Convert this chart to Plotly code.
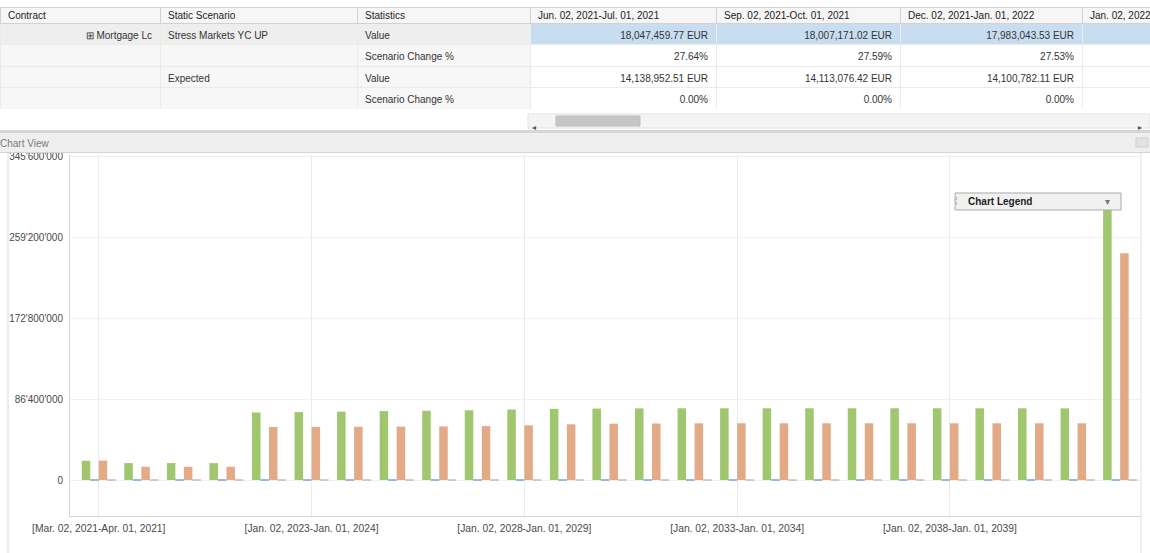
import plotly.graph_objects as go

W, H = 1150, 553
FONT = "Liberation Sans, Arial, sans-serif"
NB = "\u00a0"

# ---------------- data ----------------
periods = [
    "Mar. 02, 2021-Apr. 01, 2021", "Jun. 02, 2021-Jul. 01, 2021",
    "Sep. 02, 2021-Oct. 01, 2021", "Dec. 02, 2021-Jan. 01, 2022",
    "Jan. 02, 2022-Jan. 01, 2023", "Jan. 02, 2023-Jan. 01, 2024",
    "Jan. 02, 2024-Jan. 01, 2025", "Jan. 02, 2025-Jan. 01, 2026",
    "Jan. 02, 2026-Jan. 01, 2027", "Jan. 02, 2027-Jan. 01, 2028",
    "Jan. 02, 2028-Jan. 01, 2029", "Jan. 02, 2029-Jan. 01, 2030",
    "Jan. 02, 2030-Jan. 01, 2031", "Jan. 02, 2031-Jan. 01, 2032",
    "Jan. 02, 2032-Jan. 01, 2033", "Jan. 02, 2033-Jan. 01, 2034",
    "Jan. 02, 2034-Jan. 01, 2035", "Jan. 02, 2035-Jan. 01, 2036",
    "Jan. 02, 2036-Jan. 01, 2037", "Jan. 02, 2037-Jan. 01, 2038",
    "Jan. 02, 2038-Jan. 01, 2039", "Jan. 02, 2039-Jan. 01, 2040",
    "Jan. 02, 2040-Jan. 01, 2041", "Jan. 02, 2041-Jan. 01, 2042",
    "Jan. 02, 2042-Jan. 01, 2043",
]

stress_value = [
    20.5e6, 18047459.77, 18007171.02, 17983043.53,
    72.0e6, 72.4e6, 72.9e6, 73.5e6, 73.9e6, 74.4e6, 75.2e6, 75.9e6,
    76.2e6, 76.4e6, 76.5e6, 76.5e6, 76.5e6, 76.5e6, 76.5e6, 76.5e6,
    76.5e6, 76.5e6, 76.5e6, 76.4e6, 306.0e6,
]
stress_change_pct = [
    0.8, 27.64, 27.59, 27.53,
    27.2, 27.3, 27.5, 28.1, 28.3, 28.6, 28.9, 27.8,
    26.8, 26.7, 26.6, 26.4, 26.4, 26.4, 26.4, 26.4,
    26.4, 26.4, 26.4, 26.3, 26.4,
]
expected_value = [
    20.7e6, 14138952.51, 14113076.42, 14100782.11,
    56.6e6, 56.7e6, 56.8e6, 57.0e6, 57.2e6, 57.5e6, 58.3e6, 59.4e6,
    60.1e6, 60.3e6, 60.5e6, 60.5e6, 60.5e6, 60.5e6, 60.5e6, 60.5e6,
    60.5e6, 60.5e6, 60.5e6, 60.5e6, 242.0e6,
]
expected_change_pct = [0.0] * 25

y_ticks = [0, 86400000, 172800000, 259200000, 345600000]
x_tick_idx = [0, 5, 10, 15, 20]

# table content
table_columns = ["Contract", "Static Scenario", "Statistics",
                 "Jun. 02, 2021-Jul. 01, 2021", "Sep. 02, 2021-Oct. 01, 2021",
                 "Dec. 02, 2021-Jan. 01, 2022", "Jan. 02, 2022-Jan. 01, 2023"]
contract_col = ["\u229e Mortgage Lc", "", "", ""]
scenario_col = ["Stress Markets YC UP", "", "Expected", ""]
stat_col = ["Value", "Scenario Change %", "Value", "Scenario Change %"]
jun_col = [18047459.77, 27.64, 14138952.51, 0.00]
sep_col = [18007171.02, 27.59, 14113076.42, 0.00]
dec_col = [17983043.53, 27.53, 14100782.11, 0.00]
col_px_widths = [160, 197, 173, 186, 184, 182, 68]

# ---------------- helpers ----------------
def px(x):
    return x / W

def py(y):
    return 1 - y / H

def nowrap(s):
    return s.replace(" ", NB)

def fmt_col(col):
    out = []
    for stat, v in zip(stat_col, col):
        out.append(nowrap(f"{v:,.2f} EUR") if stat == "Value" else f"{v:.2f}%")
    return out

fig = go.Figure()

# ---------------- table ----------------
left_fill = ["#eeeeee", "#f7f7f7", "#f7f7f7", "#f7f7f7"]
val_fill = ["#c9ddf0", "#ffffff", "#ffffff", "#ffffff"]
fig.add_trace(go.Table(
    domain=dict(x=[0, 1], y=[py(109.5), py(3)]),
    columnwidth=col_px_widths,
    header=dict(
        values=[nowrap(c) for c in table_columns],
        align="left",
        height=20,
        fill_color="#f6f6f6",
        line=dict(color="#d2d2d2", width=1),
        font=dict(family=FONT, size=10, color="#222222"),
    ),
    cells=dict(
        values=[[nowrap(v) for v in contract_col], [nowrap(v) for v in scenario_col],
                [nowrap(v) for v in stat_col],
                fmt_col(jun_col), fmt_col(sep_col), fmt_col(dec_col),
                ["", "", "", ""]],
        align=["right", "left", "left", "right", "right", "right", "right"],
        height=21.5,
        fill_color=[left_fill, left_fill, left_fill, val_fill, val_fill, val_fill, val_fill],
        line=dict(color="#ebebeb", width=1),
        font=dict(family=FONT, size=10, color="#333333"),
    ),
))

# ---------------- bars ----------------
fig.add_trace(go.Bar(x=periods, y=stress_value, name="Stress Markets YC UP - Value",
                     marker=dict(color="#a0c66e", line=dict(width=0))))
fig.add_trace(go.Bar(x=periods, y=stress_change_pct, name="Stress Markets YC UP - Scenario Change %",
                     marker=dict(color="#6fa8dc", line=dict(color="#6fa8dc", width=1))))
fig.add_trace(go.Bar(x=periods, y=expected_value, name="Expected - Value",
                     marker=dict(color="#e2aa87", line=dict(width=0))))
fig.add_trace(go.Bar(x=periods, y=expected_change_pct, name="Expected - Scenario Change %",
                     marker=dict(color="#cf8f78", line=dict(color="#cf8f78", width=1.2))))

# ---------------- layout ----------------
shapes = [
    # white strip above the table header
    dict(type="rect", xref="paper", yref="paper", x0=0, x1=1, y0=py(7.5), y1=1,
         fillcolor="#ffffff", line=dict(width=0), layer="above"),
    dict(type="line", xref="paper", yref="paper", x0=0, x1=1, y0=py(7.5), y1=py(7.5),
         line=dict(color="#d2d2d2", width=1), layer="above"),
    # scrollbar
    dict(type="rect", xref="paper", yref="paper", x0=px(528), x1=px(1150), y0=py(128), y1=py(114),
         fillcolor="#f4f4f4", line=dict(color="#e2e2e2", width=1), layer="above"),
    dict(type="rect", xref="paper", yref="paper", x0=px(556), x1=px(640), y0=py(126), y1=py(116),
         fillcolor="#c6c6c6", line=dict(color="#bdbdbd", width=1), layer="above"),
    # separator
    dict(type="rect", xref="paper", yref="paper", x0=0, x1=1, y0=py(133), y1=py(130),
         fillcolor="#d6d6d6", line=dict(width=0), layer="above"),
    # chart view header band
    dict(type="rect", xref="paper", yref="paper", x0=0, x1=1, y0=py(152.5), y1=py(133),
         fillcolor="#efefef", line=dict(width=0), layer="above"),
    dict(type="line", xref="paper", yref="paper", x0=0, x1=1, y0=py(152.5), y1=py(152.5),
         line=dict(color="#d4d4d4", width=1), layer="above"),
    dict(type="rect", xref="paper", yref="paper", x0=px(1136), x1=px(1148), y0=py(147), y1=py(138),
         fillcolor="#e2e2e2", line=dict(color="#cfcfcf", width=1), layer="above"),
    # panel borders
    dict(type="line", xref="paper", yref="paper", x0=px(8), x1=px(8), y0=0, y1=py(153),
         line=dict(color="#dcdcdc", width=1), layer="above"),
    dict(type="line", xref="paper", yref="paper", x0=px(1141), x1=px(1141), y0=0, y1=py(153),
         line=dict(color="#e2e2e2", width=1), layer="above"),
    # legend box
    dict(type="rect", xref="paper", yref="paper", x0=px(955), x1=px(1121), y0=py(210), y1=py(193),
         fillcolor="#f1f1f1", line=dict(color="#a9a9a9", width=1), layer="above"),
]

annotations = [
    dict(text="Chart View", x=0, y=py(143.5), xref="paper", yref="paper", xanchor="left",
         yanchor="middle", xshift=-2, showarrow=False, font=dict(family=FONT, size=10, color="#7a7a7a")),
    dict(text="\u25c2", x=px(534), y=py(121), xref="paper", yref="paper", showarrow=False,
         font=dict(size=8, color="#555555")),
    dict(text="\u25b8", x=px(1144), y=py(121), xref="paper", yref="paper", showarrow=False,
         font=dict(size=8, color="#555555")),
    dict(text="<b>Chart Legend</b>", x=px(966), y=py(201.5), xref="paper", yref="paper",
         xanchor="left", yanchor="middle", showarrow=False,
         font=dict(family=FONT, size=10, color="#1e1e1e")),
    dict(text="\u205e", x=px(960), y=py(201.5), xref="paper", yref="paper", showarrow=False,
         font=dict(family=FONT, size=10, color="#999999")),
    dict(text="\u25be", x=px(1112), y=py(201.5), xref="paper", yref="paper", showarrow=False,
         font=dict(family=FONT, size=10, color="#777777")),
]

fig.update_layout(
    width=W, height=H,
    autosize=False,
    margin=dict(l=0, r=0, t=0, b=0, pad=0),
    paper_bgcolor="#ffffff",
    plot_bgcolor="#ffffff",
    showlegend=False,
    barmode="group",
    bargap=0.2,
    bargroupgap=0,
    separators=".'",
    font=dict(family=FONT, size=10, color="#444444"),
    shapes=shapes,
    annotations=annotations,
    xaxis=dict(
        domain=[px(70), px(1141)],
        type="category",
        range=[-0.676, 24.49],
        tickvals=[periods[i] for i in x_tick_idx],
        ticktext=["[" + periods[i] + "]" for i in x_tick_idx],
        showgrid=True, gridcolor="#ebebeb", gridwidth=1,
        showline=True, linecolor="#d6d6d6", linewidth=1,
        ticks="", ticklabelstandoff=3,
        automargin=False,
        tickfont=dict(family=FONT, size=10.3, color="#4a4a4a"),
        fixedrange=True,
    ),
    yaxis=dict(
        domain=[py(516), py(155)],
        range=[-38.4e6, 346.7e6],
        tickvals=y_ticks,
        tickformat=",d",
        showgrid=True, gridcolor="#f1f1f1", gridwidth=1,
        zeroline=False,
        showline=True, linecolor="#d6d6d6", linewidth=1,
        ticks="", ticklabelstandoff=4,
        automargin=False,
        tickfont=dict(family=FONT, size=10, color="#4a4a4a"),
        fixedrange=True,
    ),
)

fig.write_html(
    "out.html",
    config={"displayModeBar": False},
    post_script="document.body.style.margin='0';document.body.style.overflow='hidden';",
)
